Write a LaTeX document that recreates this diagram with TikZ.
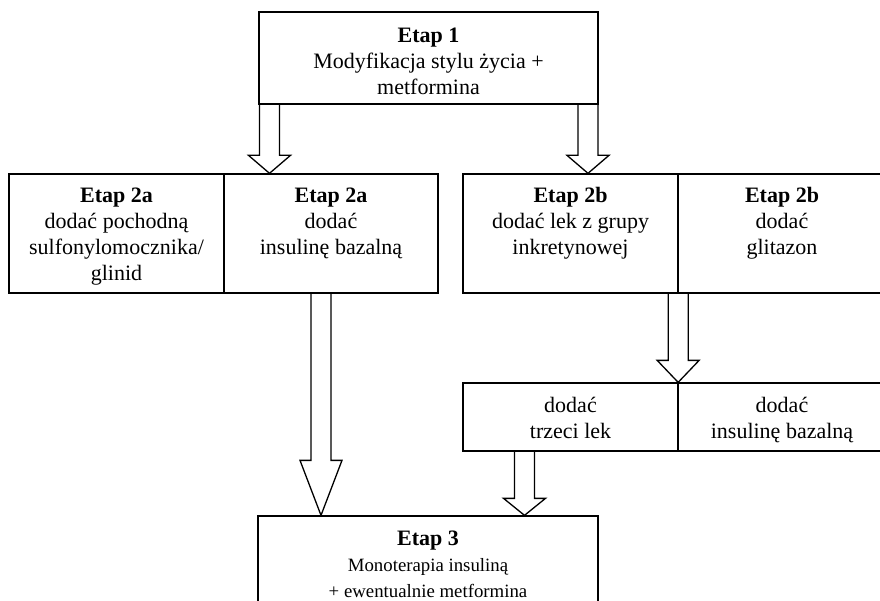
\documentclass[tikz,border=0pt]{standalone}
\usepackage{fontspec}
\setmainfont{Liberation Serif}
\usetikzlibrary{calc}
\newcommand{\smallbody}{\fontsize{18.8}{25}\selectfont}
\begin{document}
\begin{tikzpicture}[x=1pt,y=-1pt,
  cell/.style={draw, line width=1.3pt, inner sep=0pt, minimum height=119pt},
  txt/.style={align=center, inner sep=0pt, font=\fontsize{22}{26}\selectfont},
  arrowline/.style={line width=1.3pt, line join=miter},
  barrow/.style={to path={let \p1=(\tikztostart), \p2=(\tikztotarget) in
     (\x1-10pt,\y1) -- (\x1-10pt,\y2+#1) -- (\x1-21pt,\y2+#1) -- (\x1,\y2) -- (\x1+21pt,\y2+#1) -- (\x1+10pt,\y2+#1) -- (\x1+10pt,\y1)}}
]
\useasboundingbox (0,0) rectangle (880,601);

% boxes
\node[cell, minimum width=339pt, minimum height=92pt] (e1) at (428.5,58) {};
\node[cell, minimum width=215pt] (c2a1) at (116.5,233.5) {};
\node[cell, minimum width=214pt] (c2a2) at (331,233.5) {};
\node[cell, minimum width=215pt] (c2b1) at (570.5,233.5) {};
\node[cell, minimum width=208pt] (c2b2) at (782,233.5) {};
\node[cell, minimum width=215pt, minimum height=68pt] (c3a) at (570.5,417) {};
\node[cell, minimum width=208pt, minimum height=68pt] (c3b) at (782,417) {};
\node[cell, minimum width=340pt, minimum height=104pt] (e3) at (428,568) {};

% texts
\node[txt, anchor=north] (t1) at ([yshift=-16pt]e1.north) {\textbf{Etap 1}\\Modyfikacja stylu życia +\\metformina};
\node[txt, anchor=north] (t2a1) at ([yshift=-14pt]c2a1.north) {\textbf{Etap 2a}\\dodać pochodną\\sulfonylomocznika/\\glinid};
\node[txt, anchor=north] (t2a2) at ([yshift=-14pt]c2a2.north) {\textbf{Etap 2a}\\dodać\\insulinę bazalną};
\node[txt, anchor=north] (t2b1) at ([yshift=-14pt]c2b1.north) {\textbf{Etap 2b}\\dodać lek z grupy\\inkretynowej};
\node[txt, anchor=north] (t2b2) at ([yshift=-14pt]c2b2.north) {\textbf{Etap 2b}\\dodać\\glitazon};
\node[txt, anchor=north] (t3a) at ([yshift=-15pt]c3a.north) {dodać\\trzeci lek};
\node[txt, anchor=north] (t3b) at ([yshift=-15pt]c3b.north) {dodać\\insulinę bazalną};
\node[txt, anchor=north] (t3) at ([yshift=-15pt]e3.north) {\textbf{Etap 3}\\\smallbody Monoterapia insuliną\\\smallbody + ewentualnie metformina};

% block arrows
\coordinate (s1) at ([xshift=-159pt]e1.south);
\coordinate (s2) at ([xshift=159.5pt]e1.south);
\coordinate (s3) at ([xshift=-10pt]c2a2.south);
\coordinate (s4) at ([xshift=-0.5pt]c2b1.south east);
\coordinate (s5) at ([xshift=-46pt]c3a.south);
\draw[arrowline] (s1) to[barrow=18pt] (s1 |- c2a2.north);
\draw[arrowline] (s2) to[barrow=18pt] (s2 |- c2b1.north);
\draw[arrowline] (s3) to[barrow=55pt] (s3 |- e3.north);
\draw[arrowline] (s4) to[barrow=22pt] (s4 |- c3a.north);
\draw[arrowline] (s5) to[barrow=17pt] (s5 |- e3.north);
\end{tikzpicture}
\end{document}
